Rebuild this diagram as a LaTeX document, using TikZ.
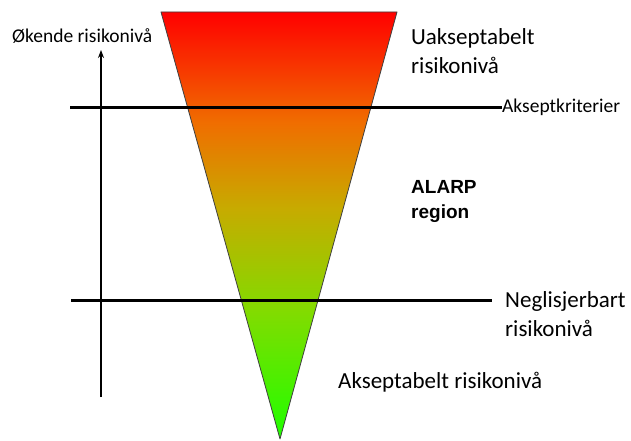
\documentclass[tikz,border=0pt]{standalone}
\usepackage{fontspec}
\setmainfont{Carlito}
\newfontfamily\alarpfont{Liberation Sans}
\usepackage{tikz}
\usetikzlibrary{positioning,arrows.meta}

\pgfdeclareverticalshading{riskshade}{100bp}{%
  rgb(0bp)=(0.12,1,0); rgb(25bp)=(0.12,1,0); rgb(40bp)=(0.51,0.86,0);
  rgb(52bp)=(0.78,0.67,0); rgb(62bp)=(0.94,0.43,0);
  rgb(75bp)=(1,0,0); rgb(100bp)=(1,0,0)}

\tikzset{
  label/.style={inner sep=0pt, anchor=base west, font=\fontsize{23}{27}\selectfont},
  smalllabel/.style={label, font=\fontsize{19.5}{23}\selectfont},
  boldlabel/.style={label, font=\alarpfont\bfseries\fontsize{19}{23}\selectfont},
  limit/.style={black, line width=3pt},
}

\begin{document}
\begin{tikzpicture}[x=1pt,y=1pt]
\useasboundingbox (0,0) rectangle (631,-441);
% risk triangle
\coordinate (topL) at (161,-12);
\coordinate (topR) at (397,-12);
\coordinate (apex) at (280,-439);
\path [shading=riskshade] (topL) -- (topR) -- (apex) -- cycle;
\draw [black!75, line width=0.8pt, line join=round] (topL) -- (topR) -- (apex) -- cycle;
% axis
\node [smalllabel] (axislbl) at (12,-43) {Økende risikonivå};
\coordinate (axisS) at (101,-397);
\coordinate (axisE) at (101,-50);
\draw [black, line width=1.4pt, -{Stealth[length=8pt,width=6pt]}] (axisS) -- (axisE);
% limits
\node [smalllabel] (akskrit) at (502,-113) {Akseptkriterier};
\coordinate (upperS) at (70,-108);
\draw [limit] (upperS) -- (upperS -| akskrit.west);
\node [label] (negl1) at (505,-307) {Neglisjerbart};
\node [label] (negl2) at (505,-336) {risikonivå};
\coordinate (lowerS) at (71,-300);
\coordinate (lowerE) at (492,-300);
\draw [limit] (lowerS) -- (lowerE);
% regions
\node [label] (uaks1) at (411,-45) {Uakseptabelt};
\node [label] (uaks2) at (411,-74) {risikonivå};
\node [boldlabel] (alarp1) at (411,-193) {ALARP};
\node [boldlabel] (alarp2) at (411,-218) {region};
\node [label] (aks) at (338,-388) {Akseptabelt risikonivå};
\end{tikzpicture}
\end{document}
